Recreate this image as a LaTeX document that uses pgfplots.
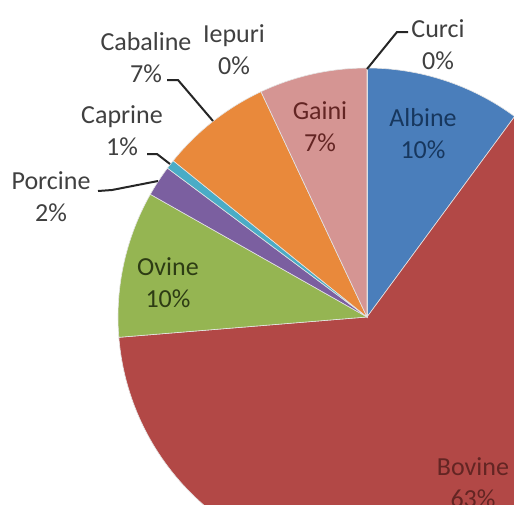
\documentclass[border=0pt]{standalone}
\usepackage{pgfplots}
\pgfplotsset{compat=1.18}
\usepackage{fontspec}
\setmainfont{Carlito}
\definecolor{albine}{HTML}{4A7EBB}
\definecolor{bovine}{HTML}{B24846}
\definecolor{ovine}{HTML}{95B552}
\definecolor{porcine}{HTML}{7B5FA0}
\definecolor{caprine}{HTML}{4AACC6}
\definecolor{cabaline}{HTML}{E9893B}
\definecolor{gaini}{HTML}{D59593}
\definecolor{iepuri}{HTML}{9BB7D9}
\definecolor{curci}{HTML}{E0E0E0}
\definecolor{lbl}{HTML}{404040}
\definecolor{tblue}{HTML}{17375E}
\definecolor{tred}{HTML}{632523}
\definecolor{tgreen}{HTML}{2D3C14}
% one pie slice: cumulative start and end (percent), colour
\newcommand\pieslice[3]{%
  \pgfmathsetmacro\sa{90-3.6*#1}%
  \pgfmathsetmacro\ea{90-3.6*#2}%
  \edef\tmp{\noexpand\fill[#3, draw=white!80!gray, line width=0.3pt] (axis cs:367,317) -- ++(\sa:124.5pt) arc[start angle=\sa, end angle=\ea, radius=124.5pt] -- cycle;}%
  \tmp}
\begin{document}
\begin{tikzpicture}
\begin{axis}[
  x=0.5pt, y=0.5pt,
  xmin=0, xmax=514, ymin=0, ymax=504,
  y dir=reverse,
  hide axis, clip=true,
]
\gdef\cumsum{0}
% values in percent: Albine, Bovine, Ovine, Porcine, Caprine, Cabaline, Gaini, Iepuri, Curci
\foreach \v/\c in {10.1/albine, 63.6/bovine, 9.5/ovine, 2.0/porcine, 0.6/caprine, 7.2/cabaline, 7.0/gaini, 0.0/iepuri, 0.0/curci}{%
  \pgfmathsetmacro\newsum{\cumsum+\v}%
  \pieslice{\cumsum}{\newsum}{\c}%
  \xdef\cumsum{\newsum}}
% leader lines
\draw[line width=1pt, black!85] (axis cs:98,191) -- (axis cs:112,190) -- (axis cs:158,181);
\draw[line width=1pt, black!85] (axis cs:147,154) -- (axis cs:157,154) -- (axis cs:170,164);
\draw[line width=1pt, black!85] (axis cs:167,80) -- (axis cs:178,80) -- (axis cs:213,121);
\draw[line width=1pt, black!85] (axis cs:367,69) -- (axis cs:397,32) -- (axis cs:408,32);
% labels
\tikzset{lab/.style={align=center, font=\fontsize{13}{16}\selectfont, inner sep=0pt}}
\node[lab, text=tblue] at (axis cs:423,134) {Albine\\10\%};
\node[lab, text=tred] at (axis cs:320,127) {Gaini\\7\%};
\node[lab, text=tgreen] at (axis cs:168,283) {Ovine\\10\%};
\node[lab, text=tred] at (axis cs:473,483) {Bovine\\63\%};
\node[lab, text=lbl] at (axis cs:146,58) {Cabaline\\7\%};
\node[lab, text=lbl] at (axis cs:234,50) {Iepuri\\0\%};
\node[lab, text=lbl] at (axis cs:438,45) {Curci\\0\%};
\node[lab, text=lbl] at (axis cs:122,131) {Caprine\\1\%};
\node[lab, text=lbl] at (axis cs:51,197) {Porcine\\2\%};
\end{axis}
\pgfresetboundingbox
\path[use as bounding box] (current axis.south west) rectangle (current axis.north east);
\end{tikzpicture}
\end{document}
